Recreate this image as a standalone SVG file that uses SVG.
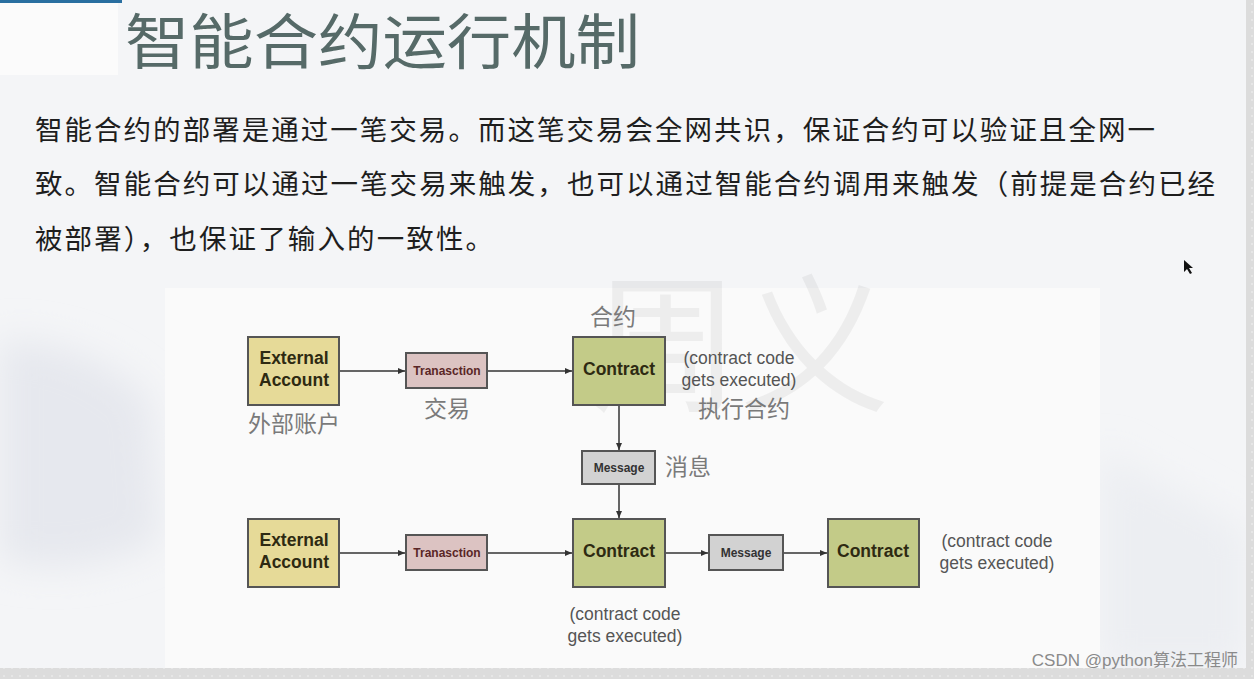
<svg xmlns="http://www.w3.org/2000/svg" width="1254" height="679" viewBox="0 0 1254 679">
<defs>
<marker id="arr" markerWidth="8" markerHeight="8" refX="7" refY="4" orient="auto" markerUnits="userSpaceOnUse">
<path d="M0,1 L7,4 L0,7 Z" fill="#333"/>
</marker>
<filter id="soft" x="-50%" y="-50%" width="200%" height="200%">
<feGaussianBlur stdDeviation="18"/>
</filter>
<pattern id="dots" width="8" height="8" patternUnits="userSpaceOnUse">
<rect width="8" height="8" fill="#dcdcdc"/>
<circle cx="4" cy="4" r="0.8" fill="#f4f4f4"/>
</pattern>
</defs>
<style>
.cn{font-family:"Noto Sans CJK SC","Noto Sans",sans-serif;}
.lbl{font-family:"Noto Sans CJK SC",sans-serif;font-size:23px;fill:#7a7a7a;text-anchor:middle;}
.box{stroke:#555;stroke-width:2;}
.big{font-family:"Liberation Sans",Arial,sans-serif;font-weight:bold;font-size:17.5px;fill:#2e2a12;text-anchor:middle;}
.small{font-family:"Liberation Sans",Arial,sans-serif;font-weight:bold;font-size:12px;text-anchor:middle;}
.note{font-family:"Liberation Sans",Arial,sans-serif;font-size:17.5px;fill:#555;text-anchor:middle;}
.edge{stroke:#333;stroke-width:1.5;fill:none;marker-end:url(#arr);}
</style>
<rect width="1254" height="679" fill="#f4f5f7"/>
<path d="M0,340 Q90,340 150,400 L160,540 Q80,580 0,560 Z" fill="#e6e8ee" filter="url(#soft)"/>
<path d="M1100,450 L1246,530 L1246,668 L1100,668 Z" fill="#eceef2" filter="url(#soft)"/>
<rect x="0" y="0" width="118" height="75" fill="#fbfbfb"/>
<rect x="0" y="0" width="122" height="3" fill="#2a6fa0"/>
<rect x="165" y="288" width="935" height="380" fill="#fafafa"/>
<rect x="0" y="668" width="1254" height="11" fill="url(#dots)"/>
<rect x="1246" y="0" width="8" height="679" fill="url(#dots)"/>

<text x="125" y="64" class="cn" font-size="60" fill="#566a68" textLength="515" lengthAdjust="spacingAndGlyphs">智能合约运行机制</text>

<g class="cn" font-size="27.5" fill="#1e1e1e">
<text x="35" y="140" textLength="1120" lengthAdjust="spacing">智能合约的部署是通过一笔交易。而这笔交易会全网共识，保证合约可以验证且全网一</text>
<text x="35" y="194" textLength="1180" lengthAdjust="spacing">致。智能合约可以通过一笔交易来触发，也可以通过智能合约调用来触发（前提是合约已经</text>
<text x="35" y="249" textLength="458" lengthAdjust="spacing">被部署），也保证了输入的一致性。</text>
</g>

<text x="740" y="400" class="cn" font-size="150" fill="#000" fill-opacity="0.05" text-anchor="middle">周义</text>

<polygon points="1184,260 1184,272 1187,269 1190,274 1192,273 1189,268 1193,268" fill="#111"/>

<g id="connectors">
<line x1="340" y1="371" x2="405" y2="371" class="edge"/>
<line x1="488" y1="371" x2="572" y2="371" class="edge"/>
<line x1="619" y1="406" x2="619" y2="450" class="edge"/>
<line x1="619" y1="485" x2="619" y2="518" class="edge"/>
<line x1="340" y1="553" x2="405" y2="553" class="edge"/>
<line x1="488" y1="553" x2="572" y2="553" class="edge"/>
<line x1="666" y1="553" x2="708" y2="553" class="edge"/>
<line x1="784" y1="553" x2="827" y2="553" class="edge"/>
</g>

<g id="ext1">
<rect x="248" y="337" width="91" height="68" fill="#e6da98" class="box"/>
<text x="294" y="364" class="big">External</text>
<text x="294" y="386" class="big">Account</text>
<text x="294" y="432" class="lbl">外部账户</text>
</g>
<g id="tx1">
<rect x="406" y="353" width="81" height="35" fill="#dcc3c2" class="box"/>
<text x="447" y="375" class="small" fill="#5a2626">Tranasction</text>
<text x="447" y="417" class="lbl">交易</text>
</g>
<g id="contract1">
<text x="613" y="325" class="lbl">合约</text>
<rect x="573" y="337" width="92" height="68" fill="#c3cb88" class="box"/>
<text x="619" y="375" class="big" fill="#26300c">Contract</text>
<text x="739" y="364" class="note">(contract code</text>
<text x="739" y="386" class="note">gets executed)</text>
<text x="744" y="417" class="lbl">执行合约</text>
</g>
<g id="msg1">
<rect x="582" y="451" width="73" height="33" fill="#d2d2d2" class="box"/>
<text x="619" y="472" class="small" fill="#333">Message</text>
<text x="688" y="475" class="lbl">消息</text>
</g>
<g id="ext2">
<rect x="248" y="519" width="91" height="68" fill="#e6da98" class="box"/>
<text x="294" y="546" class="big">External</text>
<text x="294" y="568" class="big">Account</text>
</g>
<g id="tx2">
<rect x="406" y="535" width="81" height="35" fill="#dcc3c2" class="box"/>
<text x="447" y="557" class="small" fill="#5a2626">Tranasction</text>
</g>
<g id="contract2">
<rect x="573" y="519" width="92" height="68" fill="#c3cb88" class="box"/>
<text x="619" y="557" class="big" fill="#26300c">Contract</text>
<text x="625" y="620" class="note">(contract code</text>
<text x="625" y="642" class="note">gets executed)</text>
</g>
<g id="msg2">
<rect x="709" y="535" width="74" height="35" fill="#d2d2d2" class="box"/>
<text x="746" y="557" class="small" fill="#333">Message</text>
</g>
<g id="contract3">
<rect x="828" y="519" width="91" height="68" fill="#c3cb88" class="box"/>
<text x="873" y="557" class="big" fill="#26300c">Contract</text>
<text x="997" y="547" class="note">(contract code</text>
<text x="997" y="569" class="note">gets executed)</text>
</g>

<text x="1238" y="666" font-family="'Liberation Sans','Noto Sans CJK SC',sans-serif" font-size="17" fill="#8a8a8a" text-anchor="end">CSDN @python算法工程师</text>
</svg>
